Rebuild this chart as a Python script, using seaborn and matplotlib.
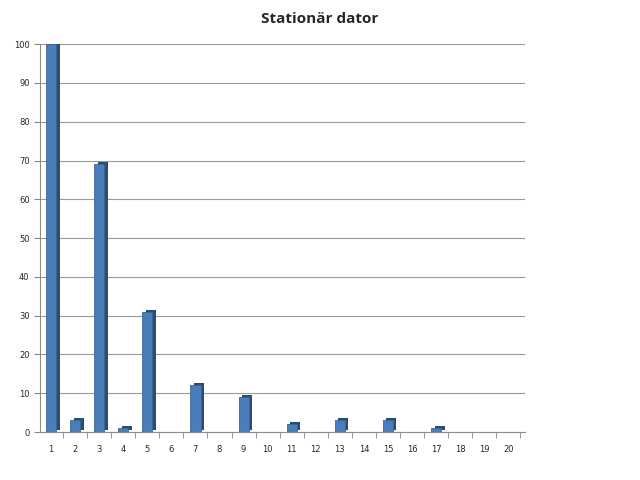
import matplotlib
matplotlib.use('Agg')
import matplotlib.pyplot as plt
import matplotlib.patheffects as pe
import seaborn as sns
import pandas as pd
import numpy as np

# data
categories = [str(i) for i in range(1, 21)]
values = [100, 3, 69, 1, 31, 0, 12, 0, 9, 0, 2, 0, 3, 0, 3, 0, 1, 0, 0, 0]
y_ticks = list(range(0, 101, 10))

df = pd.DataFrame({'cat': categories, 'val': values})

sns.set_style("white")
plt.rcParams['font.family'] = ['DejaVu Sans']

fig = plt.figure(figsize=(6.4, 4.8), dpi=100)
ax = fig.add_axes([0.0625, 0.1, 0.758, 0.808])

sns.barplot(data=df, x='cat', y='val', color='#4A7EBB', saturation=1,
            width=0.42, edgecolor='#3A6595', linewidth=0.6, ax=ax)

# fake 3D depth on the bars
for p in ax.patches:
    p.set_path_effects([pe.SimplePatchShadow(offset=(2.5, 1.5), shadow_rgbFace='#2B4C72', alpha=1.0),
                        pe.Normal()])

ax.set_ylim(0, 100)
ax.set_xlim(-0.46, 19.7)
ax.set_yticks(y_ticks)
ax.set_yticklabels([str(t) for t in y_ticks], fontsize=6)
# tick marks sit between the categories
ax.set_xticks(np.arange(len(categories)) + 0.5, minor=True)
ax.tick_params(axis='x', which='major', labelsize=6, length=0, pad=9)
ax.tick_params(axis='x', which='minor', length=4, color='#888888', bottom=True)
ax.tick_params(axis='y', length=4, color='#888888', left=True)
ax.set_xlabel('')
ax.set_ylabel('')
ax.yaxis.grid(True, color='#9A9A9A', linewidth=0.8)
ax.set_axisbelow(True)
for s in ['top', 'right']:
    ax.spines[s].set_visible(False)
ax.spines['left'].set_color('#8C8C8C')
ax.spines['bottom'].set_color('#8C8C8C')

fig.suptitle('Stationär dator', x=0.5, y=0.975, fontsize=11, fontweight='bold',
             family=['Open Sans', 'DejaVu Sans'])

fig.savefig('out.png', dpi=100)
